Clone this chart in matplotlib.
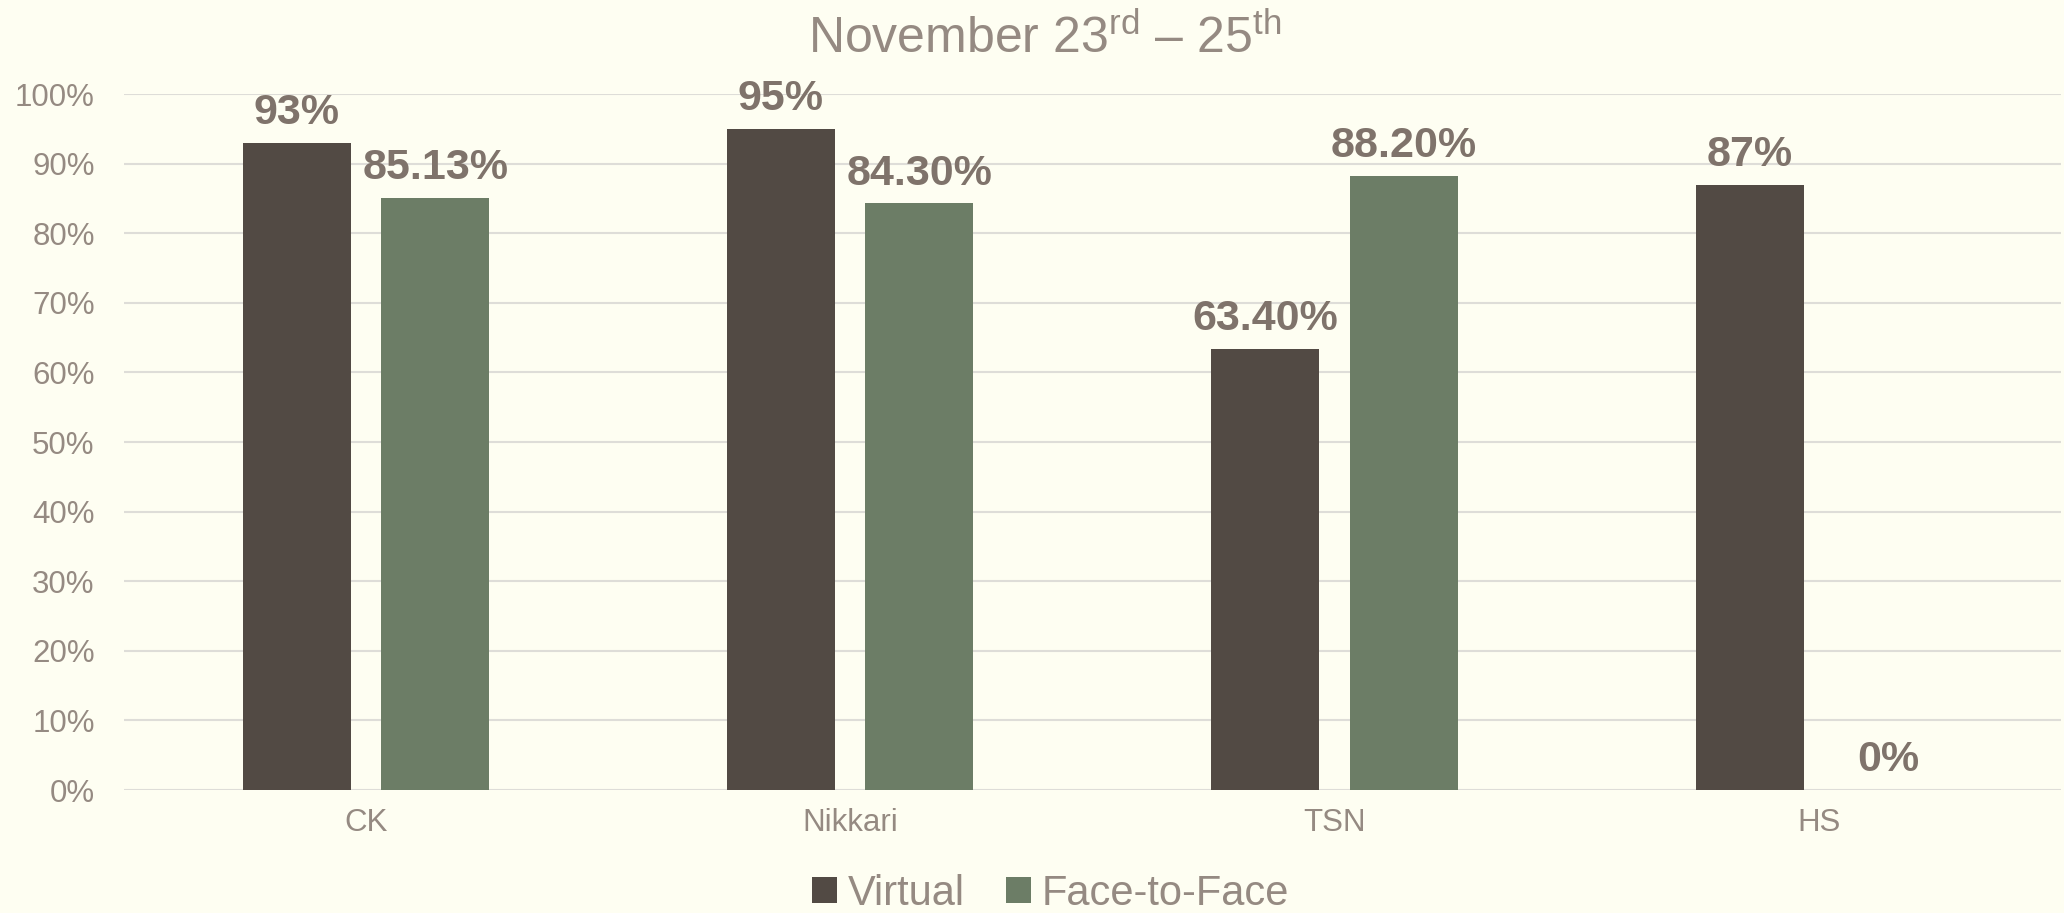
import matplotlib.pyplot as plt
import numpy as np

categories = ["CK", "Nikkari", "TSN", "HS"]
virtual = [0.93, 0.95, 0.634, 0.87]
face_to_face = [0.8513, 0.843, 0.882, 0.0]
virtual_labels = ["93%", "95%", "63.40%", "87%"]
face_labels = ["85.13%", "84.30%", "88.20%", "0%"]
y_ticks = [0, 0.1, 0.2, 0.3, 0.4, 0.5, 0.6, 0.7, 0.8, 0.9, 1.0]

plt.rcParams["font.family"] = ["Liberation Sans", "DejaVu Sans"]
plt.rcParams["mathtext.fontset"] = "custom"
plt.rcParams["mathtext.rm"] = "Liberation Sans"

bg = "#FEFEF2"
text_col = "#958A82"
label_col = "#7F736B"

fig = plt.figure(figsize=(20.64, 9.13), dpi=100)
fig.patch.set_facecolor(bg)
ax = fig.add_axes([0.060, 0.1347, 0.9385, 0.7623])
ax.set_facecolor(bg)

x = np.arange(len(categories))
w = 0.223
off = 0.143
b1 = ax.bar(x - off, virtual, w, color="#524A44", label="Virtual", zorder=3)
b2 = ax.bar(x + off, face_to_face, w, color="#6C7D66", label="Face-to-Face", zorder=3)

for bars, labels in ((b1, virtual_labels), (b2, face_labels)):
    for rect, lab in zip(bars, labels):
        ax.annotate(lab, (rect.get_x() + rect.get_width() / 2, rect.get_height()),
                    xytext=(0, 7), textcoords="offset points", ha="center", va="bottom",
                    fontsize=31, fontweight="bold", color=label_col, zorder=4)

ax.set_xlim(-0.5, len(categories) - 0.5)
ax.set_ylim(0, 1.0)
ax.set_yticks(y_ticks)
ax.set_yticklabels([f"{int(round(t * 100))}%" for t in y_ticks])
ax.set_xticks(x)
ax.set_xticklabels(categories)
ax.tick_params(axis="y", length=0, pad=21, labelsize=22.5, labelcolor=text_col)
ax.tick_params(axis="x", length=0, pad=13, labelsize=22.5, labelcolor=text_col)
ax.grid(axis="y", color="#DEDDD8", linewidth=1.5, zorder=0)
ax.set_axisbelow(True)
for s in ax.spines.values():
    s.set_visible(False)

fig.text(0.506, 0.958, r"November 23$^{\mathrm{rd}}$ – 25$^{\mathrm{th}}$",
         ha="center", va="center", fontsize=36, color=text_col)

leg = fig.legend(loc="center", bbox_to_anchor=(0.509, 0.021), ncol=2, frameon=False,
                 fontsize=30, handlelength=0.6, handleheight=0.6,
                 handletextpad=0.25, columnspacing=1.0)
for t in leg.get_texts():
    t.set_color(text_col)

fig.savefig("out.png", dpi=100, facecolor=bg)
